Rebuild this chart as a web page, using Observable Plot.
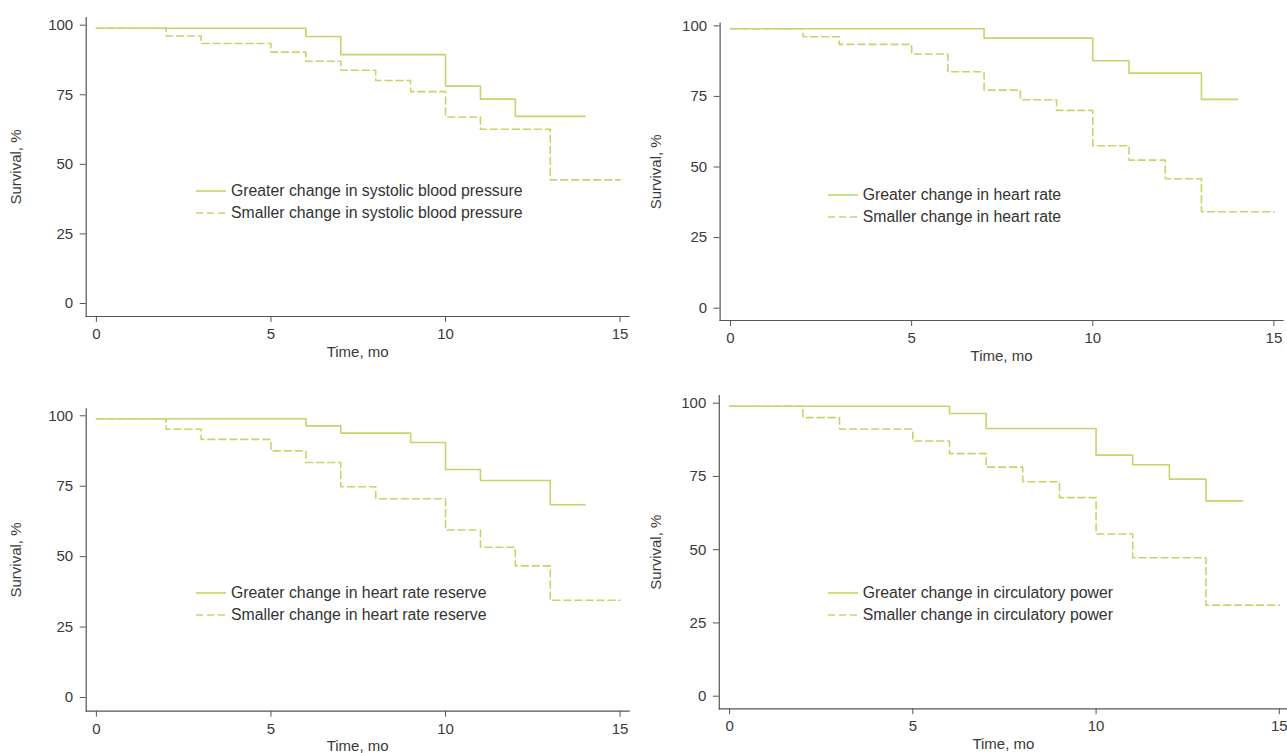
<!DOCTYPE html>
<html><head><meta charset="utf-8">
<script src="https://cdn.jsdelivr.net/npm/d3@7"></script>
<script src="https://cdn.jsdelivr.net/npm/@observablehq/plot@0.6"></script>
<style>
body{margin:0;background:#fff;width:1287px;height:753px;overflow:hidden;position:relative;font-family:"Liberation Sans",Arial,sans-serif;}
.panel{position:absolute;}
.legend{position:absolute;font-size:15.8px;color:#333;}
.row{display:flex;align-items:center;height:22px;white-space:nowrap;}
.row svg{margin-right:5px;flex:none;}
</style></head><body>
<script>
// ---- data ----
const timeTicks = [0, 5, 10, 15];
const survivalTicks = [0, 25, 50, 75, 100];

const sbpGreaterTime = [0, 6, 7, 10, 11, 12, 14];
const sbpGreaterSurv = [100, 97.0, 90.5, 79.2, 74.5, 68.3, 68.3];
const sbpSmallerTime = [0, 2, 3, 5, 6, 7, 8, 9, 10, 11, 13, 15];
const sbpSmallerSurv = [100, 97.2, 94.5, 91.4, 88.1, 84.9, 81.2, 77.2, 68.1, 63.7, 45.5, 45.5];

const hrGreaterTime = [0, 7, 10, 11, 13, 14];
const hrGreaterSurv = [100, 96.7, 88.7, 84.3, 75.0, 75.0];
const hrSmallerTime = [0, 2, 3, 5, 6, 7, 8, 9, 10, 11, 12, 13, 15];
const hrSmallerSurv = [100, 97.2, 94.5, 91.1, 84.8, 78.3, 74.9, 71.1, 58.6, 53.5, 46.9, 35.2, 35.2];

const hrrGreaterTime = [0, 6, 7, 9, 10, 11, 13, 14];
const hrrGreaterSurv = [100, 97.5, 94.9, 91.6, 82.0, 78.1, 69.5, 69.5];
const hrrSmallerTime = [0, 2, 3, 5, 6, 7, 8, 10, 11, 12, 13, 15];
const hrrSmallerSurv = [100, 96.3, 92.7, 88.6, 84.5, 75.9, 71.6, 60.5, 54.4, 47.8, 35.6, 35.6];

const cpGreaterTime = [0, 6, 7, 10, 11, 12, 13, 14];
const cpGreaterSurv = [100, 97.5, 92.4, 83.3, 80.0, 75.1, 67.7, 67.7];
const cpSmallerTime = [0, 2, 3, 5, 6, 7, 8, 9, 10, 11, 13, 15];
const cpSmallerSurv = [100, 96.1, 92.2, 88.1, 83.8, 79.2, 74.2, 68.8, 56.4, 48.3, 32.1, 32.1];

const legendGreater = ["Greater change in systolic blood pressure", "Greater change in heart rate", "Greater change in heart rate reserve", "Greater change in circulatory power"];
const legendSmaller = ["Smaller change in systolic blood pressure", "Smaller change in heart rate", "Smaller change in heart rate reserve", "Smaller change in circulatory power"];

// ---- style / layout ----
const lineColor = "#bfd86a";
const dash = "7,4";

const layouts = [
  {left:0, top:0, w:640, h:370, ml:85.7, mr:11.4, mt:17, mb:54, il:10.2, ir:9, it:10.7, ib:10, lx:196, ly:190.7},
  {left:640, top:0, w:647, h:370, ml:79.6, mr:4.5, mt:22.7, mb:50, il:10.4, ir:9.1, it:5.6, ib:9.3, lx:827.7, ly:195},
  {left:0, top:390, w:640, h:363, ml:85.7, mr:11.4, mt:18.3, mb:42.3, il:10.2, ir:9, it:10, ib:10.7, lx:196, ly:593.3},
  {left:640, top:390, w:647, h:363, ml:78.8, mr:0, mt:5, mb:44.7, il:10.3, ir:8.2, it:10.7, ib:9.6, lx:827.7, ly:593.3}
];

const series = [
  [sbpGreaterTime, sbpGreaterSurv, sbpSmallerTime, sbpSmallerSurv],
  [hrGreaterTime, hrGreaterSurv, hrSmallerTime, hrSmallerSurv],
  [hrrGreaterTime, hrrGreaterSurv, hrrSmallerTime, hrrSmallerSurv],
  [cpGreaterTime, cpGreaterSurv, cpSmallerTime, cpSmallerSurv]
];

function toRows(times, surv) { return times.map((t, i) => ({t, s: surv[i]})); }

layouts.forEach((L, k) => {
  const [gt, gs, st, ss] = series[k];
  const chart = Plot.plot({
    width: L.w, height: L.h,
    marginLeft: L.ml, marginRight: L.mr, marginTop: L.mt, marginBottom: L.mb,
    style: {fontFamily: "'Liberation Sans', Arial, sans-serif", fontSize: "15px", color: "#3a3a3a", background: "transparent", overflow: "visible"},
    x: {domain: [0, 15], insetLeft: L.il, insetRight: L.ir},
    y: {domain: [0, 100], insetTop: L.it, insetBottom: L.ib},
    marks: [
      Plot.axisX({ticks: timeTicks, tickSize: 6, tickPadding: 6, label: "Time, mo", labelAnchor: "center", labelArrow: "none", labelOffset: 40, stroke: "#555"}),
      Plot.axisY({ticks: survivalTicks, tickSize: 6, tickPadding: 7, dy: -3, label: "Survival, %", labelAnchor: "center", labelArrow: "none", labelOffset: L.ml - 10, stroke: "#555"}),
      Plot.frame({anchor: "left", stroke: "#555", strokeWidth: 1.2}),
      Plot.frame({anchor: "bottom", stroke: "#555", strokeWidth: 1.2}),
      Plot.line(toRows(gt, gs), {x: "t", y: "s", curve: "step-after", stroke: lineColor, strokeWidth: 1.6}),
      Plot.line(toRows(st, ss), {x: "t", y: "s", curve: "step-after", stroke: lineColor, strokeWidth: 1.6, strokeDasharray: dash})
    ]
  });
  const wrap = document.createElement("div");
  wrap.className = "panel";
  wrap.style.left = L.left + "px";
  wrap.style.top = L.top + "px";
  wrap.appendChild(chart);
  document.body.appendChild(wrap);

  const leg = document.createElement("div");
  leg.className = "legend";
  leg.style.left = L.lx + "px";
  leg.style.top = (L.ly - 11) + "px";
  leg.innerHTML =
    `<div class="row"><svg width="30" height="4"><line x1="0" x2="30" y1="2" y2="2" stroke="${lineColor}" stroke-width="1.6"/></svg><span>${legendGreater[k]}</span></div>` +
    `<div class="row"><svg width="30" height="4"><line x1="0" x2="30" y1="2" y2="2" stroke="${lineColor}" stroke-width="1.6" stroke-dasharray="${dash}"/></svg><span>${legendSmaller[k]}</span></div>`;
  document.body.appendChild(leg);
});
</script>
</body></html>
